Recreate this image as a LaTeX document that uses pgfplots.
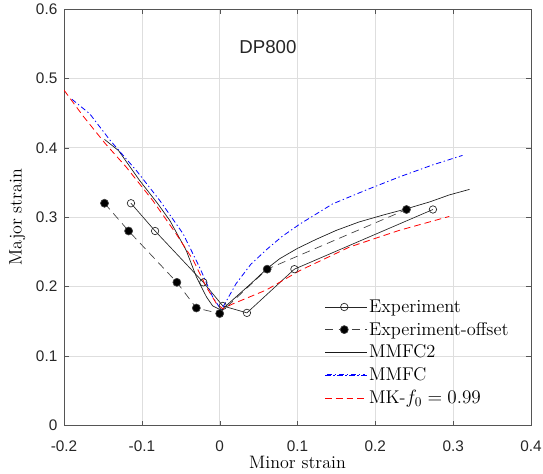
\documentclass[border=0pt]{standalone}
\usepackage{fontspec}
\usepackage{pgfplots}
\pgfplotsset{compat=1.18}
\newfontfamily\arial{Liberation Sans}
\definecolor{ticktext}{RGB}{38,38,38}
\definecolor{boxcol}{RGB}{85,85,85}
\definecolor{mkred}{RGB}{255,0,0}
\definecolor{mmfcblue}{RGB}{0,0,255}

\begin{document}
\begin{tikzpicture}
\begin{axis}[
  scale only axis,
  width=350pt, height=312pt,
  xmin=-0.2, xmax=0.4, ymin=0, ymax=0.6,
  xtick={-0.2,-0.1,0,0.1,0.2,0.3,0.4},
  ytick={0,0.1,0.2,0.3,0.4,0.5,0.6},
  /pgf/number format/assume math mode=true,
  xticklabel style={font=\arial\fontsize{11.5}{13}\selectfont, text=ticktext, yshift=-8pt},
  yticklabel style={font=\arial\fontsize{11.5}{13}\selectfont, text=ticktext, xshift=-1.5pt},
  scaled ticks=false,
  tick align=inside,
  major tick length=3.5pt,
  tick style={boxcol},
  axis line style={boxcol},
  grid=major,
  major grid style={black!13},
  xlabel={Minor strain},
  ylabel={Major strain},
  label style={font=\fontsize{13.5}{15}\selectfont},
  xlabel style={at={(rel axis cs:0.5,-0.089)}, anchor=center},
  ylabel style={at={(rel axis cs:-0.1,0.5)}, anchor=center},
  legend cell align=left,
  legend style={at={(rel axis cs:0.558,0.307)}, anchor=north west, draw=none, fill=none,
    font=\fontsize{13.8}{15}\selectfont, row sep=2.9pt, inner sep=0pt,
    nodes={inner sep=1.5pt}},
  legend image code/.code={\path (0pt,0pt) -- (31pt,0pt);
    \draw[mark repeat=2,mark phase=2,#1]
    plot coordinates {(0pt,0pt) (14.25pt,0pt) (28.5pt,0pt)};},
]

% Experiment (open circles)
\addplot[color=black!85, line width=0.5pt, mark=o, mark size=2.8pt, mark options={solid}] coordinates {
  (-0.114,0.320) (-0.083,0.280) (-0.021,0.206) (0.004,0.172)
  (0.035,0.162) (0.096,0.225) (0.274,0.311)
};
\addlegendentry{Experiment}

% Experiment offset (filled circles)
\addplot[color=black!75, line width=0.5pt, dash pattern=on 6pt off 4pt, mark=*, mark size=3pt,
  mark options={solid, fill=black}] coordinates {
  (-0.148,0.320) (-0.117,0.280) (-0.055,0.206) (-0.030,0.169)
  (0.000,0.161) (0.061,0.225) (0.240,0.311)
};
\addlegendentry{Experiment-offset}

% MMFC2
\addplot[color=black!90, line width=0.5pt] coordinates {
  (-0.148,0.412) (-0.130,0.396) (-0.103,0.353) (-0.080,0.320) (-0.064,0.295)
  (-0.043,0.252) (-0.030,0.214) (-0.017,0.185) (-0.009,0.172) (0.002,0.166)
  (0.020,0.184) (0.040,0.204) (0.061,0.226) (0.077,0.240) (0.100,0.255)
  (0.124,0.268) (0.150,0.281) (0.179,0.293) (0.210,0.303) (0.240,0.312)
  (0.270,0.322) (0.295,0.332) (0.321,0.340)
};
\addlegendentry{MMFC2}

% MMFC (its legend sample is drawn below, the legend cell keeps only the room)
\addplot[color=mmfcblue, line width=0.6pt, dash pattern=on 4pt off 2pt on 1pt off 2pt,
  legend image code/.code={\path (0pt,0pt) -- (31pt,0pt);}] coordinates {
  (-0.190,0.470) (-0.167,0.449) (-0.141,0.411) (-0.107,0.367) (-0.077,0.324)
  (-0.047,0.276) (-0.026,0.228) (-0.009,0.185) (0.002,0.166)
  (0.004,0.170) (0.021,0.204) (0.040,0.232) (0.060,0.253) (0.080,0.272)
  (0.103,0.290) (0.145,0.319) (0.188,0.339) (0.231,0.358) (0.273,0.375)
  (0.312,0.389)
};
\addlegendentry{MMFC}

% MK
\addplot[color=mkred, line width=0.6pt, dash pattern=on 5pt off 3pt,
  legend image code/.code={\path (0pt,0pt) -- (31pt,0pt);
    \draw[mkred, line width=0.6pt, dash pattern=on 5pt off 3pt]
    (0pt,0pt) -- (28.5pt,0pt);}] coordinates {
  (-0.200,0.483) (-0.175,0.445) (-0.147,0.406) (-0.120,0.372) (-0.086,0.324)
  (-0.056,0.276) (-0.034,0.238) (-0.017,0.199) (-0.004,0.175) (0.004,0.168)
  (0.017,0.175) (0.060,0.195) (0.103,0.223) (0.167,0.257) (0.231,0.281)
  (0.295,0.301)
};
\addlegendentry{MK-$f_0=0.99$}

% legend sample line for MMFC
\draw[mmfcblue, line width=0.6pt, dash pattern=on 4pt off 2pt on 1pt off 2pt]
  (rel axis cs:0.5623,0.1214) -- (rel axis cs:0.6437,0.1214);

\node[font=\arial\fontsize{14}{16}\selectfont, text=ticktext] at (axis cs:0.062,0.545) {DP800};

\end{axis}
\pgfresetboundingbox
\path (-48pt,-36pt) rectangle (359pt,318.75pt);
\end{tikzpicture}
\end{document}
